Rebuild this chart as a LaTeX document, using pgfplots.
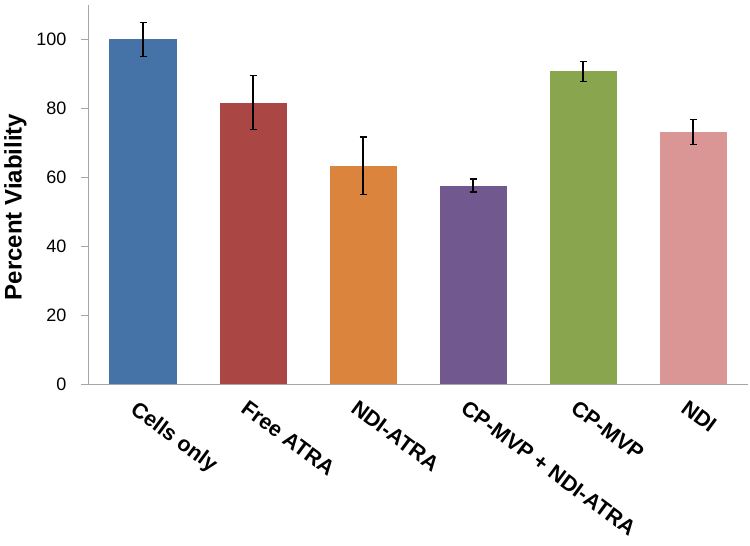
\documentclass[border=0pt]{standalone}
\usepackage{fontspec}
\setmainfont{Liberation Sans}
\usepackage{pgfplots}
\pgfplotsset{compat=1.18}
\definecolor{c1}{HTML}{4572A7}
\definecolor{c2}{HTML}{AA4643}
\definecolor{c3}{HTML}{DB843D}
\definecolor{c4}{HTML}{71588F}
\definecolor{c5}{HTML}{89A54E}
\definecolor{c6}{HTML}{D99694}
\definecolor{axgray}{HTML}{A6A6A6}

\begin{document}
\begin{tikzpicture}
\begin{axis}[
    scale only axis,
    width=660pt, height=379pt,
    xmin=-0.5, xmax=5.5,
    ymin=0, ymax=110,
    ytick={0,20,40,60,80,100},
    xtick={0,1,2,3,4,5},
    xticklabels={Cells only,Free ATRA,NDI-ATRA,CP-MVP + NDI-ATRA,CP-MVP,NDI},
    axis x line=bottom, axis y line=left,
    axis line style={draw=axgray, line width=0.8pt, -},
    ytick style={draw=axgray, line width=0.8pt},
    xtick style={draw=none},
    tick align=outside,
    major tick length=7pt,
    /pgf/number format/assume math mode=true,
    yticklabel style={font=\fontsize{18}{18}\selectfont, text=black, xshift=-11pt},
    xticklabel style={font=\fontsize{21.5}{21.5}\selectfont\bfseries,
        rotate=-36.5, anchor=north west, xshift=-2pt, yshift=-6pt},
    ylabel={\fontsize{24}{24}\selectfont\bfseries Percent Viability},
    ylabel style={at={(axis description cs:-0.11,0.467)}, anchor=center, rotate=0},
    ybar, bar width=67pt, bar shift=0pt,
    clip=false,
]
\addplot[draw=none, fill=c1, error bars/.cd, y dir=both, y explicit,
    error bar style={black, line width=1.2pt}, error mark options={black, line width=1.2pt, mark size=3.5pt, rotate=90}]
    coordinates {(0,100) +- (0,5.0)};
\addplot[draw=none, fill=c2, error bars/.cd, y dir=both, y explicit,
    error bar style={black, line width=1.2pt}, error mark options={black, line width=1.2pt, mark size=3.5pt, rotate=90}]
    coordinates {(1,81.7) +- (0,7.8)};
\addplot[draw=none, fill=c3, error bars/.cd, y dir=both, y explicit,
    error bar style={black, line width=1.2pt}, error mark options={black, line width=1.2pt, mark size=3.5pt, rotate=90}]
    coordinates {(2,63.4) +- (0,8.3)};
\addplot[draw=none, fill=c4, error bars/.cd, y dir=both, y explicit,
    error bar style={black, line width=1.2pt}, error mark options={black, line width=1.2pt, mark size=3.5pt, rotate=90}]
    coordinates {(3,57.6) +- (0,1.9)};
\addplot[draw=none, fill=c5, error bars/.cd, y dir=both, y explicit,
    error bar style={black, line width=1.2pt}, error mark options={black, line width=1.2pt, mark size=3.5pt, rotate=90}]
    coordinates {(4,90.7) +- (0,3.0)};
\addplot[draw=none, fill=c6, error bars/.cd, y dir=both, y explicit,
    error bar style={black, line width=1.2pt}, error mark options={black, line width=1.2pt, mark size=3.5pt, rotate=90}]
    coordinates {(5,73.1) +- (0,3.6)};
\end{axis}
\pgfresetboundingbox
\path ([xshift=-88pt,yshift=-161pt]current axis.south west) rectangle ([xshift=2pt,yshift=5pt]current axis.north east);
\end{tikzpicture}
\end{document}
